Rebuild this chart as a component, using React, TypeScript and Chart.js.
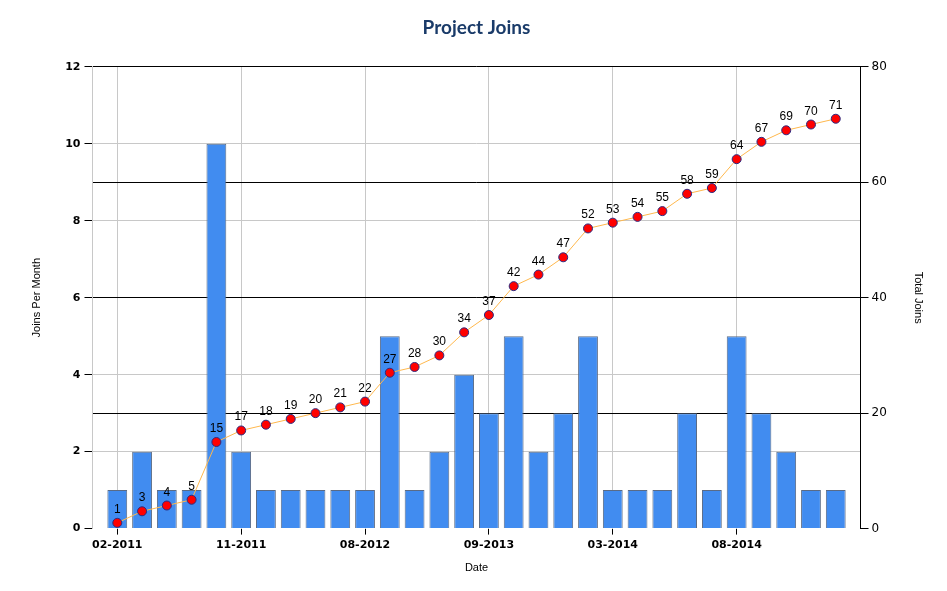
import React, { useEffect, useRef } from "react";
import { Chart, registerables } from "chart.js";
import type { Plugin } from "chart.js";

Chart.register(...registerables);

// joins per month, one entry per month that had activity
const joinsPerMonth = [1, 2, 1, 1, 10, 2, 1, 1, 1, 1, 1, 5, 1, 2, 4, 3, 5, 2, 3, 5, 1, 1, 1, 3, 1, 5, 3, 2, 1, 1];
// running total shown by the line
const totalJoins = [1, 3, 4, 5, 15, 17, 18, 19, 20, 21, 22, 27, 28, 30, 34, 37, 42, 44, 47, 52, 53, 54, 55, 58, 59, 64, 67, 69, 70, 71];
// date labels shown on the x axis and the month index they sit on
const tickIndex = [0, 5, 10, 15, 20, 25];
const tickLabels = ["02-2011", "11-2011", "08-2012", "09-2013", "03-2014", "08-2014"];

const GRID = "#c8c8c8";

const pointLabels: Plugin<"bar"> = {
  id: "pointLabels",
  afterDatasetsDraw(chart) {
    const meta = chart.getDatasetMeta(1);
    const ctx = chart.ctx;
    ctx.save();
    ctx.font = "12px 'Liberation Sans', Arial, sans-serif";
    ctx.fillStyle = "#000";
    ctx.textAlign = "center";
    ctx.textBaseline = "alphabetic";
    meta.data.forEach((pt, i) => {
      ctx.fillText(String(totalJoins[i]), pt.x, pt.y - 10);
    });
    ctx.restore();
  },
};

const App: React.FC = () => {
  const chartRef = useRef<HTMLCanvasElement | null>(null);
  const chartInstance = useRef<Chart | null>(null);

  useEffect(() => {
    if (!chartRef.current) return;

    const bars = joinsPerMonth.map((v, i) => ({ x: i, y: v }));
    const totals = totalJoins.map((v, i) => ({ x: i, y: v }));

    chartInstance.current = new Chart(chartRef.current, {
      type: "bar",
      data: {
        datasets: [
          {
            type: "bar",
            label: "Joins Per Month",
            data: bars,
            yAxisID: "y",
            backgroundColor: "#418cf0",
            borderColor: "#5a6b86",
            borderWidth: 1,
            barPercentage: 0.8,
            categoryPercentage: 1,
            order: 1,
          },
          {
            type: "line",
            label: "Total Joins",
            data: totals,
            yAxisID: "y1",
            borderColor: "#ffb84d",
            borderWidth: 1,
            pointRadius: 4.5,
            pointBackgroundColor: "#ff0000",
            pointBorderColor: "#2b2b80",
            pointBorderWidth: 1,
            tension: 0,
            order: 0,
          } as any,
        ],
      },
      options: {
        animation: false,
        responsive: true,
        maintainAspectRatio: false,
        layout: { padding: { left: 14, right: 8, top: 0, bottom: 4 } },
        plugins: {
          legend: { display: false },
          tooltip: { enabled: false },
          title: {
            display: true,
            text: "Project Joins",
            color: "#1a3b69",
            font: { family: "Lato, 'DejaVu Sans', sans-serif", size: 19, weight: "bold" },
            padding: { top: 8, bottom: 28 },
          },
        },
        scales: {
          x: {
            type: "linear",
            min: -1,
            max: 30,
            offset: false,
            afterBuildTicks: (axis) => {
              axis.ticks = tickIndex.map((v) => ({ value: v }));
            },
            ticks: {
              autoSkip: false,
              maxRotation: 0,
              padding: 4,
              color: "#000",
              font: { family: "'DejaVu Sans', sans-serif", size: 11, weight: "bold" },
              callback: (value) => {
                const k = tickIndex.indexOf(Number(value));
                return k >= 0 ? tickLabels[k] : "";
              },
            },
            grid: { offset: false, color: GRID, tickColor: "#000", tickLength: 6 },
            border: { display: false },
            title: {
              display: true,
              text: "Date",
              color: "#000",
              font: { family: "'Liberation Sans', Arial, sans-serif", size: 11 },
              padding: { top: 6, bottom: 4 },
            },
          },
          y: {
            position: "left",
            min: 0,
            max: 12,
            ticks: {
              stepSize: 2,
              padding: 4,
              color: "#000",
              font: { family: "'DejaVu Sans', sans-serif", size: 11, weight: "bold" },
            },
            grid: {
              color: (c) => (c.tick.value === 0 || c.tick.value === 12 ? "transparent" : GRID),
              tickColor: "#000",
              tickLength: 8,
            },
            border: { color: GRID },
            title: {
              display: true,
              text: "Joins Per Month",
              color: "#000",
              font: { family: "'Liberation Sans', Arial, sans-serif", size: 11 },
              padding: { top: 8, bottom: 18 },
            },
          },
          y1: {
            position: "right",
            min: 0,
            max: 80,
            ticks: {
              stepSize: 20,
              padding: 3,
              color: "#000",
              font: { family: "'DejaVu Sans', sans-serif", size: 12 },
            },
            grid: {
              color: (c) => (c.tick.value === 0 ? "transparent" : "#000"),
              tickColor: "#000",
              tickLength: 8,
            },
            border: { color: "#000" },
            title: {
              display: true,
              text: "Total Joins",
              color: "#000",
              font: { family: "'Liberation Sans', Arial, sans-serif", size: 11 },
              padding: { top: 6, bottom: 22 },
            },
          },
        },
      },
      plugins: [pointLabels],
    });

    return () => {
      chartInstance.current?.destroy();
      chartInstance.current = null;
    };
  }, []);

  return (
    <div style={{ width: "100%", height: 575, background: "#fff" }}>
      <canvas ref={chartRef} />
    </div>
  );
};

export default App;
